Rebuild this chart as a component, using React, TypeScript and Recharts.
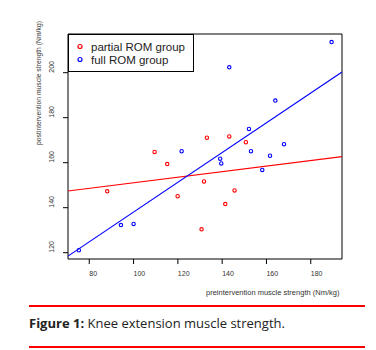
import {
  ReferenceArea,
  ReferenceLine,
  Scatter,
  ScatterChart,
  XAxis,
  YAxis,
} from 'recharts';

// preintervention (x) vs postintervention (y) muscle strength, Nm/kg
const PARTIAL_X = [109.5, 115.2, 88.1, 119.9, 131.8, 130.7, 141.4, 145.6, 150.7, 133.1, 143.2];
const PARTIAL_Y = [164.8, 159.4, 147.3, 145.1, 151.7, 130.4, 141.6, 147.7, 169.1, 171.1, 171.7];
const FULL_X = [189.4, 143.2, 164.0, 152.1, 167.9, 121.7, 153.0, 161.6, 139.1, 139.6, 158.1, 94.3, 100.0, 75.3];
const FULL_Y = [213.6, 202.4, 187.6, 175.0, 168.2, 165.1, 165.1, 163.1, 161.8, 159.7, 156.8, 132.3, 132.8, 121.1];

// fitted lines, evaluated at the plot edges
const FIT_X = [70.4, 194.1];
const PARTIAL_FIT_Y = [147.4, 162.7];
const FULL_FIT_Y = [118.5, 200.3];

const X_DOMAIN = [70.4, 194.1];
const Y_DOMAIN = [117.2, 217.2];
const X_TICKS = [80, 100, 120, 140, 160, 180];
const Y_TICKS = [120, 140, 160, 180, 200];

const SERIES = [
  { key: 'partial', label: 'partial ROM group', color: '#ff0000', xs: PARTIAL_X, ys: PARTIAL_Y, fit: PARTIAL_FIT_Y },
  { key: 'full', label: 'full ROM group', color: '#0000ff', xs: FULL_X, ys: FULL_Y, fit: FULL_FIT_Y },
];

const FONT = '"Liberation Sans", Arial, sans-serif';

function OpenDot(props: any) {
  const { cx, cy, fill } = props;
  return <circle cx={cx} cy={cy} r={1.7} fill="none" stroke={fill} strokeWidth={1.1} />;
}

function XTick({ x, y, payload }: any) {
  return (
    <text x={x} y={y + 10} fontSize={7} fill="#333" fontFamily={FONT} textAnchor="start">
      {payload.value}
    </text>
  );
}

function YTick({ x, y, payload }: any) {
  return (
    <text
      x={x - 7}
      y={y}
      fontSize={7}
      fill="#333"
      fontFamily={FONT}
      textAnchor="start"
      transform={`rotate(-90 ${x - 7} ${y})`}
    >
      {payload.value}
    </text>
  );
}

function LegendBox() {
  return (
    <div
      style={{
        position: 'absolute',
        left: 68,
        top: 34,
        width: 126,
        height: 38,
        border: '1px solid #000',
        background: '#fff',
        fontFamily: FONT,
        fontSize: 11.5,
        color: '#222',
        boxSizing: 'border-box',
        paddingTop: 5,
      }}
    >
      {SERIES.map((s) => (
        <div key={s.key} style={{ display: 'flex', alignItems: 'center', height: 13 }}>
          <svg width={22} height={13}>
            <circle cx={11} cy={6.5} r={2} fill="none" stroke={s.color} strokeWidth={1.2} />
          </svg>
          <span>{s.label}</span>
        </div>
      ))}
    </div>
  );
}

export default function App() {
  return (
    <div style={{ position: 'absolute', left: 0, top: 0, width: 376, height: 350, background: '#fff' }}>
      <ScatterChart width={376} height={300} margin={{ top: 34, right: 34, left: 0, bottom: 0 }}>
        <XAxis
          type="number"
          dataKey="x"
          domain={X_DOMAIN}
          ticks={X_TICKS}
          allowDataOverflow
          height={41}
          axisLine={false}
          tickLine={{ stroke: '#000' }}
          tickSize={5}
          tick={<XTick />}
        />
        <YAxis
          type="number"
          dataKey="y"
          domain={Y_DOMAIN}
          ticks={Y_TICKS}
          allowDataOverflow
          width={68}
          axisLine={false}
          tickLine={{ stroke: '#000' }}
          tickSize={5}
          tick={<YTick />}
        />
        <ReferenceArea
          x1={X_DOMAIN[0]}
          x2={X_DOMAIN[1]}
          y1={Y_DOMAIN[0]}
          y2={Y_DOMAIN[1]}
          fill="none"
          stroke="#000"
          strokeWidth={1}
          fillOpacity={0}
        />
        {SERIES.map((s) => (
          <ReferenceLine
            key={`fit-${s.key}`}
            segment={[
              { x: FIT_X[0], y: s.fit[0] },
              { x: FIT_X[1], y: s.fit[1] },
            ]}
            stroke={s.color}
            strokeWidth={1.1}
            ifOverflow="hidden"
          />
        ))}
        {SERIES.map((s) => (
          <Scatter
            key={s.key}
            name={s.label}
            data={s.xs.map((x, i) => ({ x, y: s.ys[i] }))}
            fill={s.color}
            shape={<OpenDot />}
            isAnimationActive={false}
          />
        ))}
      </ScatterChart>
      <LegendBox />
      <div
        style={{
          position: 'absolute',
          left: 38,
          top: 83,
          transform: 'translate(-50%, -50%) rotate(-90deg)',
          fontFamily: FONT,
          fontSize: 6.8,
          color: '#333',
          whiteSpace: 'nowrap',
        }}
      >
        postintervention muscle strength (Nm/kg)
      </div>
      <div
        style={{
          position: 'absolute',
          left: 206,
          top: 288,
          fontFamily: FONT,
          fontSize: 7.5,
          color: '#333',
          whiteSpace: 'nowrap',
        }}
      >
        preintervention muscle strength (Nm/kg)
      </div>
      <div style={{ position: 'absolute', left: 29, top: 305, width: 336, height: 1.5, background: '#ff0000' }} />
      <div
        style={{
          position: 'absolute',
          left: 29,
          top: 314,
          fontFamily: '"Open Sans", sans-serif',
          fontSize: 13,
          color: '#222',
          whiteSpace: 'nowrap',
        }}
      >
        <b>Figure 1:</b> Knee extension muscle strength.
      </div>
      <div style={{ position: 'absolute', left: 29, top: 346, width: 336, height: 1.5, background: '#ff0000' }} />
    </div>
  );
}
